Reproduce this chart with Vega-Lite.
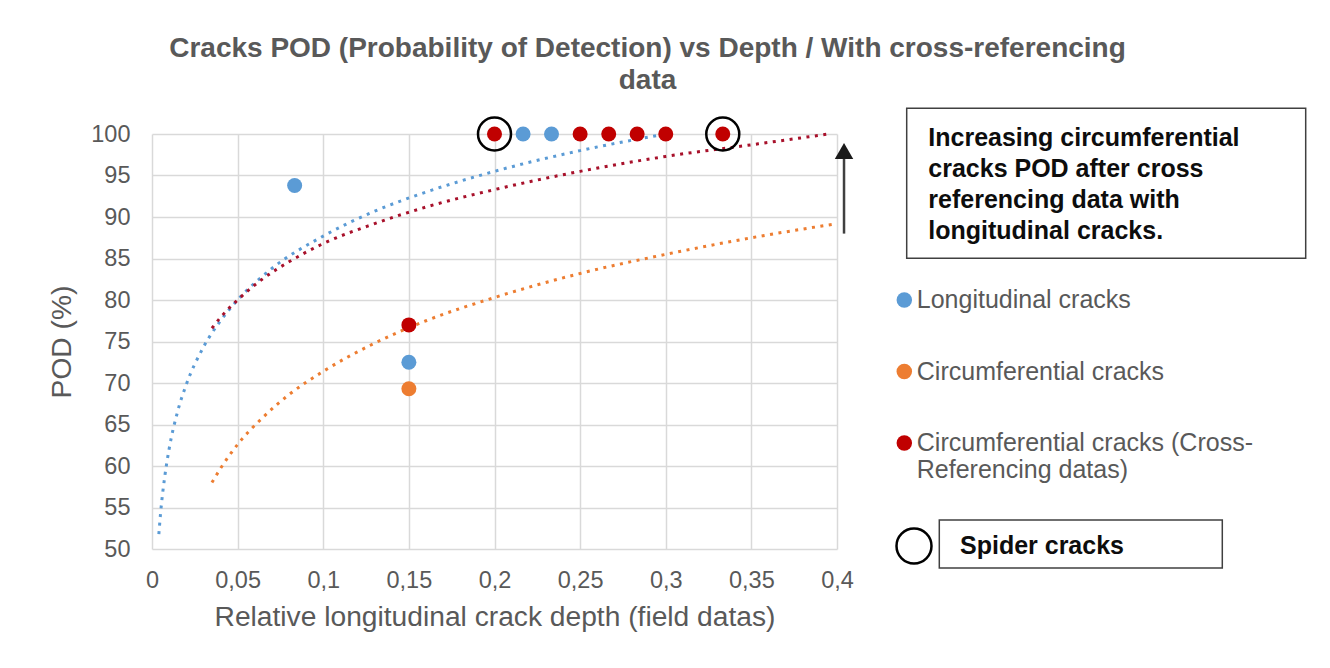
{
  "$schema": "https://vega.github.io/schema/vega-lite/v6.json",
  "width": 685,
  "height": 415,
  "autosize": {"type": "none"},
  "padding": {"left": 152, "top": 134, "right": 493, "bottom": 119},
  "background": "white",
  "title": {
    "text": ["Cracks POD (Probability of Detection) vs Depth / With cross-referencing", "data"],
    "anchor": "middle",
    "frame": "group",
    "dx": 153,
    "offset": 13,
    "fontSize": 28,
    "fontWeight": "bold",
    "color": "#595959",
    "lineHeight": 32,
    "font": "Liberation Sans"
  },
  "config": {
    "view": {"stroke": null},
    "font": "Liberation Sans",
    "legend": {"strokeWidth": 1.5},
    "axis": {
      "grid": true,
      "gridColor": "#d9d9d9",
      "gridWidth": 1.5,
      "domain": false,
      "ticks": false,
      "labelColor": "#595959",
      "labelFontSize": 23.5,
      "labelFont": "Liberation Sans",
      "titleColor": "#595959",
      "titleFontSize": 28.2,
      "titleFontWeight": "normal",
      "titleFont": "Liberation Sans",
      "labelFlush": false,
      "labelOverlap": false
    }
  },
  "datasets": {
    "trend": [
      {"series": "Longitudinal cracks", "depth": 0.004, "pod": 51.8},
      {"series": "Longitudinal cracks", "depth": 0.005, "pod": 54.3},
      {"series": "Longitudinal cracks", "depth": 0.0075, "pod": 58.8},
      {"series": "Longitudinal cracks", "depth": 0.01, "pod": 62.05},
      {"series": "Longitudinal cracks", "depth": 0.015, "pod": 66.6},
      {"series": "Longitudinal cracks", "depth": 0.02, "pod": 69.8},
      {"series": "Longitudinal cracks", "depth": 0.03, "pod": 74.3},
      {"series": "Longitudinal cracks", "depth": 0.04, "pod": 77.5},
      {"series": "Longitudinal cracks", "depth": 0.05, "pod": 80.0},
      {"series": "Longitudinal cracks", "depth": 0.07, "pod": 83.8},
      {"series": "Longitudinal cracks", "depth": 0.1, "pod": 87.7},
      {"series": "Longitudinal cracks", "depth": 0.13, "pod": 90.7},
      {"series": "Longitudinal cracks", "depth": 0.16, "pod": 93.0},
      {"series": "Longitudinal cracks", "depth": 0.2, "pod": 95.5},
      {"series": "Longitudinal cracks", "depth": 0.25, "pod": 98.0},
      {"series": "Longitudinal cracks", "depth": 0.3, "pod": 100.0},
      {"series": "Circumferential cracks", "depth": 0.035, "pod": 58.0},
      {"series": "Circumferential cracks", "depth": 0.04, "pod": 59.7},
      {"series": "Circumferential cracks", "depth": 0.05, "pod": 62.6},
      {"series": "Circumferential cracks", "depth": 0.065, "pod": 65.9},
      {"series": "Circumferential cracks", "depth": 0.08, "pod": 68.6},
      {"series": "Circumferential cracks", "depth": 0.1, "pod": 71.4},
      {"series": "Circumferential cracks", "depth": 0.13, "pod": 74.8},
      {"series": "Circumferential cracks", "depth": 0.16, "pod": 77.5},
      {"series": "Circumferential cracks", "depth": 0.2, "pod": 80.3},
      {"series": "Circumferential cracks", "depth": 0.25, "pod": 83.2},
      {"series": "Circumferential cracks", "depth": 0.3, "pod": 85.5},
      {"series": "Circumferential cracks", "depth": 0.35, "pod": 87.5},
      {"series": "Circumferential cracks", "depth": 0.4, "pod": 89.2},
      {"series": "Circumferential cracks (Cross-Referencing datas)", "depth": 0.035, "pod": 76.6},
      {"series": "Circumferential cracks (Cross-Referencing datas)", "depth": 0.04, "pod": 77.9},
      {"series": "Circumferential cracks (Cross-Referencing datas)", "depth": 0.05, "pod": 80.0},
      {"series": "Circumferential cracks (Cross-Referencing datas)", "depth": 0.065, "pod": 82.6},
      {"series": "Circumferential cracks (Cross-Referencing datas)", "depth": 0.08, "pod": 84.6},
      {"series": "Circumferential cracks (Cross-Referencing datas)", "depth": 0.1, "pod": 86.8},
      {"series": "Circumferential cracks (Cross-Referencing datas)", "depth": 0.13, "pod": 89.2},
      {"series": "Circumferential cracks (Cross-Referencing datas)", "depth": 0.16, "pod": 91.2},
      {"series": "Circumferential cracks (Cross-Referencing datas)", "depth": 0.2, "pod": 93.3},
      {"series": "Circumferential cracks (Cross-Referencing datas)", "depth": 0.25, "pod": 95.5},
      {"series": "Circumferential cracks (Cross-Referencing datas)", "depth": 0.3, "pod": 97.3},
      {"series": "Circumferential cracks (Cross-Referencing datas)", "depth": 0.35, "pod": 98.7},
      {"series": "Circumferential cracks (Cross-Referencing datas)", "depth": 0.395, "pod": 100.0}
    ],
    "points": [
      {"series": "Longitudinal cracks", "depth": 0.0833, "pod": 93.8},
      {"series": "Longitudinal cracks", "depth": 0.15, "pod": 72.5},
      {"series": "Longitudinal cracks", "depth": 0.2167, "pod": 100},
      {"series": "Longitudinal cracks", "depth": 0.2333, "pod": 100},
      {"series": "Circumferential cracks", "depth": 0.15, "pod": 69.3},
      {"series": "Circumferential cracks (Cross-Referencing datas)", "depth": 0.15, "pod": 77.0},
      {"series": "Circumferential cracks (Cross-Referencing datas)", "depth": 0.2, "pod": 100},
      {"series": "Circumferential cracks (Cross-Referencing datas)", "depth": 0.25, "pod": 100},
      {"series": "Circumferential cracks (Cross-Referencing datas)", "depth": 0.2667, "pod": 100},
      {"series": "Circumferential cracks (Cross-Referencing datas)", "depth": 0.2833, "pod": 100},
      {"series": "Circumferential cracks (Cross-Referencing datas)", "depth": 0.3, "pod": 100},
      {"series": "Circumferential cracks (Cross-Referencing datas)", "depth": 0.3333, "pod": 100}
    ],
    "spider": [
      {"depth": 0.2, "pod": 100},
      {"depth": 0.3333, "pod": 100}
    ],
    "arrow": [
      {"depth": 0.4041, "pod": 88.0, "pod_end": 97.2}
    ],
    "arrowhead": [
      {"depth": 0.4041, "pod": 97.95}
    ]
  },
  "layer": [
    {
      "data": {"name": "trend"},
      "mark": {"type": "line", "strokeWidth": 3, "strokeCap": "butt", "interpolate": "monotone"},
      "encoding": {
        "x": {
          "field": "depth", "type": "quantitative",
          "scale": {"domain": [0, 0.4], "nice": false, "zero": false},
          "axis": {
            "title": "Relative longitudinal crack depth (field datas)",
            "values": [0, 0.05, 0.1, 0.15, 0.2, 0.25, 0.3, 0.35, 0.4],
            "format": "~f",
            "labelExpr": "replace(datum.label, '.', ',')",
            "labelPadding": 19,
            "titlePadding": 12
          }
        },
        "y": {
          "field": "pod", "type": "quantitative",
          "scale": {"domain": [50, 100], "nice": false, "zero": false},
          "axis": {
            "title": "POD (%)",
            "values": [50, 55, 60, 65, 70, 75, 80, 85, 90, 95, 100],
            "labelPadding": 22,
            "titlePadding": 14
          }
        },
        "stroke": {
          "field": "series", "type": "nominal",
          "scale": {"range": ["#ED7D31", "#A8112B", "#5B9BD5"]},
          "legend": null
        },
        "strokeDash": {
          "datum": "annotation box", "type": "nominal",
          "scale": {"range": [[3, 5.5]]},
          "legend": {
            "orient": "none",
            "legendX": 754.7,
            "legendY": -25.7,
            "title": null,
            "padding": 0,
            "strokeColor": "#404040",
            "symbolType": "square",
            "symbolSize": 22500,
            "symbolOpacity": 0,
            "symbolStrokeWidth": 0,
            "labelExpr": "''",
            "labelFontSize": 1,
            "labelOffset": 248.3
          }
        }
      }
    },
    {
      "data": {"name": "points"},
      "mark": {"type": "point", "filled": true, "size": 225, "opacity": 1},
      "encoding": {
        "x": {"field": "depth", "type": "quantitative"},
        "y": {"field": "pod", "type": "quantitative"},
        "color": {
          "field": "series", "type": "nominal",
          "scale": {
            "domain": ["Longitudinal cracks", "Circumferential cracks", "Circumferential cracks (Cross-Referencing datas)"],
            "range": ["#5B9BD5", "#ED7D31", "#C00000"]
          },
          "legend": {
            "orient": "none",
            "legendX": 739.8,
            "legendY": 153.5,
            "title": null,
            "padding": 0,
            "symbolType": "circle",
            "symbolSize": 240,
            "symbolStrokeWidth": 0,
            "labelFontSize": 25,
            "labelColor": "#595959",
            "labelFont": "Liberation Sans",
            "labelLimit": 600,
            "labelOffset": 0,
            "rowPadding": 45.5,
            "labelBaseline": "middle",
            "labelExpr": "datum.label == 'Circumferential cracks (Cross-Referencing datas)' ? ['Circumferential cracks (Cross-', 'Referencing datas)'] : datum.label"
          }
        }
      }
    },
    {
      "data": {"name": "spider"},
      "mark": {"type": "point", "filled": false, "size": 1089, "strokeWidth": 2.5, "color": "#000000", "opacity": 1},
      "encoding": {
        "x": {"field": "depth", "type": "quantitative"},
        "y": {"field": "pod", "type": "quantitative"},
        "shape": {
          "datum": "Spider cracks", "type": "nominal",
          "scale": {"range": ["circle"]},
          "legend": {
            "orient": "none",
            "legendX": 743,
            "legendY": 393,
            "title": null,
            "padding": 0,
            "symbolSize": 1225,
            "symbolStrokeColor": "#000000",
            "symbolStrokeWidth": 2.5,
            "symbolFillColor": "transparent",
            "symbolOpacity": 1,
            "labelExpr": "''",
            "labelFontSize": 1
          }
        },
        "strokeWidth": {
          "datum": "spider box", "type": "nominal",
          "scale": {"range": [2.5, 2.5]},
          "legend": {
            "orient": "none",
            "legendX": 787.3,
            "legendY": 386,
            "title": null,
            "padding": 0,
            "strokeColor": "#404040",
            "symbolType": "square",
            "symbolSize": 2153,
            "symbolOpacity": 0,
            "labelExpr": "''",
            "labelFontSize": 1,
            "labelOffset": 233.5
          }
        },
        "opacity": {
          "datum": "spider text", "type": "nominal",
          "scale": {"range": [1, 1]},
          "legend": {
            "orient": "none",
            "legendX": 808,
            "legendY": 400,
            "title": "Spider cracks",
            "titleFontSize": 25,
            "titleFontWeight": "bold",
            "titleColor": "#0d0d0d",
            "titleFont": "Liberation Sans",
            "titlePadding": 0,
            "padding": 0,
            "symbolOpacity": 0,
            "symbolSize": 1,
            "symbolStrokeWidth": 0,
            "labelExpr": "''",
            "labelFontSize": 1
          }
        }
      }
    },
    {
      "data": {"name": "arrow"},
      "mark": {"type": "rule", "strokeWidth": 2.5, "color": "#404040"},
      "encoding": {
        "x": {"field": "depth", "type": "quantitative"},
        "y": {"field": "pod", "type": "quantitative"},
        "y2": {"field": "pod_end"}
      }
    },
    {
      "data": {"name": "arrowhead"},
      "mark": {"type": "point", "shape": "triangle-up", "filled": true, "color": "#1a1a1a", "opacity": 1},
      "encoding": {
        "x": {"field": "depth", "type": "quantitative"},
        "y": {"field": "pod", "type": "quantitative"},
        "size": {
          "datum": "annotation text", "type": "nominal",
          "scale": {"range": [340, 340]},
          "legend": {
            "orient": "none",
            "legendX": 776.3,
            "legendY": -8.5,
            "title": ["Increasing circumferential", "cracks POD after cross", "referencing data with", "longitudinal cracks."],
            "titleFontSize": 25,
            "titleFontWeight": "bold",
            "titleColor": "#0d0d0d",
            "titleFont": "Liberation Sans",
            "titleLineHeight": 31,
            "titlePadding": 0,
            "titleLimit": 1000,
            "padding": 0,
            "symbolOpacity": 0,
            "symbolStrokeWidth": 0,
            "labelExpr": "''",
            "labelFontSize": 1
          }
        }
      }
    }
  ]
}
